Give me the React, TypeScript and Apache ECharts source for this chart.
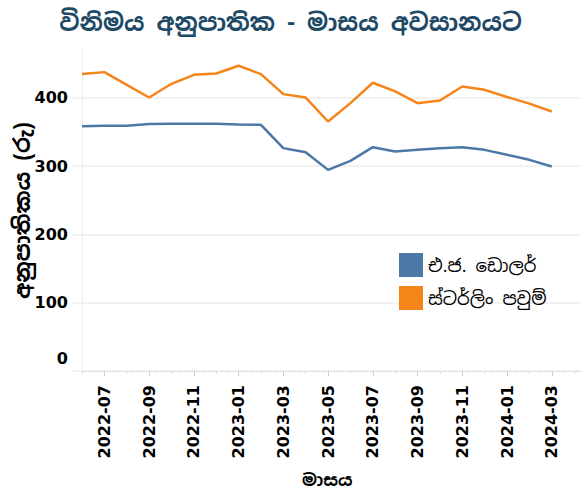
import React, { useEffect, useRef } from 'react';
import * as echarts from 'echarts';

const months = [
  '2022-06', '2022-07', '2022-08', '2022-09', '2022-10', '2022-11', '2022-12',
  '2023-01', '2023-02', '2023-03', '2023-04', '2023-05', '2023-06', '2023-07',
  '2023-08', '2023-09', '2023-10', '2023-11', '2023-12', '2024-01', '2024-02',
  '2024-03', '2024-04', '2024-05',
];
const usdRates = [358.5, 359, 359.2, 361.5, 362, 362, 362, 361, 360.5, 326.3, 320.4, 294.5, 307.7, 327.7, 321.3, 323.8, 326.3, 327.7, 323.8, 316.5, 309.2, 299.4];
const gbpRates = [435, 437.6, 419, 400.4, 420.5, 433.7, 435.6, 446.9, 434.7, 405.4, 400.4, 365.3, 392.2, 422, 409.3, 392.2, 396, 416.6, 411.7, 401.2, 391.5, 379.9];
const seriesNames = ['එ.ජ. ඩොලර්', 'ස්ටර්ලිං පවුම්'];
const titleText = 'විනිමය අනුපාතික - මාසය අවසානයට';
const yAxisTitle = 'අනුපාතිකය (රු)';
const xAxisTitle = 'මාසය';
const yMin = 0;
const yMax = 470;
const yStep = 100;

const NUM_FONT = "'DejaVu Sans', sans-serif";
const SI_FONT = "'Noto Sans Sinhala', 'Noto Serif Sinhala', 'LKLUG', 'Iskoola Pota', sans-serif";

export default function App() {
  const ref = useRef<HTMLDivElement>(null);
  useEffect(() => {
    document.body.style.margin = '0';
    const chart = echarts.init(ref.current!, null, { renderer: 'svg' });
    chart.setOption({
      animation: false,
      backgroundColor: '#ffffff',
      title: {
        text: titleText,
        left: 'center',
        top: 5,
        textStyle: { fontSize: 24, fontWeight: 'bold', color: '#1e4a66', fontFamily: SI_FONT },
      },
      legend: {
        orient: 'vertical',
        left: 394,
        top: 248,
        itemWidth: 24,
        itemHeight: 24,
        itemGap: 9,
        icon: 'rect',
        data: seriesNames,
        textStyle: { fontSize: 18, color: '#000', fontFamily: SI_FONT },
      },
      grid: { left: 82, top: 50, width: 514.5, bottom: 119, containLabel: false, outerBoundsMode: 'none' },
      xAxis: [
        {
          type: 'category',
          data: months,
          boundaryGap: false,
          position: 'bottom',
          name: xAxisTitle,
          nameLocation: 'middle',
          nameGap: 100,
          nameMoveOverlap: false,
          nameTextStyle: { fontSize: 17, fontWeight: 'bold', color: '#000', fontFamily: SI_FONT, padding: [0, 24, 0, 0] },
          axisLine: { show: true, lineStyle: { color: '#dddddd', type: [4, 2], width: 1 } },
          axisTick: { show: true, length: 5, interval: (i: number) => i % 2 === 1, lineStyle: { color: '#cccccc' } },
          axisLabel: {
            interval: (i: number) => i % 2 === 1 && i <= 21,
            rotate: 90,
            margin: 14,
            fontSize: 16,
            fontWeight: 'bold',
            color: '#000',
            fontFamily: NUM_FONT,
          },
          splitLine: { show: false },
        },
        {
          type: 'category',
          data: months,
          boundaryGap: false,
          position: 'bottom',
          axisLine: { show: false },
          axisTick: { show: true, length: 3, interval: (i: number) => i % 2 === 0, lineStyle: { color: '#dddddd' } },
          axisLabel: { show: false },
          splitLine: { show: false },
        },
      ],
      yAxis: {
        type: 'value',
        min: yMin,
        max: yMax,
        interval: yStep,
        name: yAxisTitle,
        nameLocation: 'middle',
        nameGap: 49,
        nameMoveOverlap: false,
        nameTextStyle: { fontSize: 22, fontWeight: 'bold', color: '#000', fontFamily: SI_FONT },
        axisLine: { show: true, lineStyle: { color: '#eeeeee', width: 1 } },
        axisTick: { show: true, length: 9, lineStyle: { color: '#eeeeee', width: 1.5 } },
        axisLabel: {
          margin: 14,
          fontSize: 16,
          fontWeight: 'bold',
          color: '#000',
          fontFamily: NUM_FONT,
          showMaxLabel: false,
          formatter: (v: number) => (v === 0 ? '{z|0}' : String(v)),
          rich: {
            z: { fontSize: 16, fontWeight: 'bold', color: '#000', fontFamily: NUM_FONT, padding: [0, 0, 26, 0] },
          },
        },
        splitLine: { show: true, showMaxLine: false, lineStyle: { color: '#eeeeee', width: 1.5 } },
      },
      series: [
        {
          name: seriesNames[0],
          type: 'line',
          data: usdRates,
          symbol: 'none',
          color: '#4c78a8',
          lineStyle: { width: 2.5, color: '#4c78a8' },
        },
        {
          name: seriesNames[1],
          type: 'line',
          data: gbpRates,
          symbol: 'none',
          color: '#f58518',
          lineStyle: { width: 2.5, color: '#f58518' },
        },
      ],
    });
    return () => chart.dispose();
  }, []);
  return <div ref={ref} style={{ width: 581, height: 490 }} />;
}
